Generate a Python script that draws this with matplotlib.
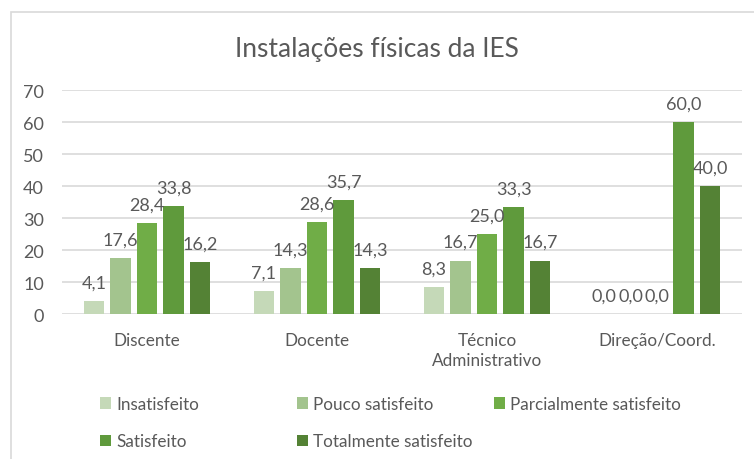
import numpy as np
import matplotlib.pyplot as plt
from matplotlib.patches import Rectangle

plt.rcParams['font.family'] = ['Lato', 'DejaVu Sans']

categories = ['Discente', 'Docente', 'Técnico\nAdministrativo', 'Direção/Coord.']
series = ['Insatisfeito', 'Pouco satisfeito', 'Parcialmente satisfeito',
          'Satisfeito', 'Totalmente satisfeito']
values = {
    'Insatisfeito':            [4.1, 7.1, 8.3, 0.0],
    'Pouco satisfeito':        [17.6, 14.3, 16.7, 0.0],
    'Parcialmente satisfeito': [28.4, 28.6, 25.0, 0.0],
    'Satisfeito':              [33.8, 35.7, 33.3, 60.0],
    'Totalmente satisfeito':   [16.2, 14.3, 16.7, 40.0],
}
colors = ['#C5D9B8', '#A3C48E', '#70AD47', '#5F9A3C', '#548235']
yticks = [0, 10, 20, 30, 40, 50, 60, 70]

txt = '#595959'

fig = plt.figure(figsize=(7.54, 4.60), dpi=100)
ax = fig.add_axes([62/754, 1-315/460, 680/754, 224/460])

# light chart frame
fig.patches.append(Rectangle((11/754, -0.1), 1.2, 1.1 - 13/460, transform=fig.transFigure,
                             fill=False, edgecolor='#D9D9D9', linewidth=1.2))

x = np.arange(len(categories))
pitch = 0.156
width = 0.118
bars = []
for i, s in enumerate(series):
    pos = x + (i - 2) * pitch
    b = ax.bar(pos, values[s], width, color=colors[i], label=s, zorder=3)
    bars.append(b)
    for px, v in zip(pos, values[s]):
        ax.text(px, v + 4.2, f'{v:.1f}'.replace('.', ','), ha='center', va='baseline',
                fontsize=13, color=txt, zorder=4)

ax.set_xlim(-0.5, len(categories) - 0.5)
ax.set_ylim(0, 70)
ax.set_yticks(yticks)
ax.set_xticks(x)
ax.set_xticklabels(categories, color=txt, fontsize=12.3, linespacing=1.3)
ax.tick_params(axis='y', length=0, pad=13, labelsize=13, labelcolor=txt)
ax.tick_params(axis='x', length=0, pad=13)
ax.yaxis.grid(True, color='#D9D9D9', linewidth=1.2, zorder=0)
for sp in ax.spines.values():
    sp.set_visible(False)

fig.text(0.5, 1 - 50/460, 'Instalações físicas da IES', ha='center', va='center',
         fontsize=19, color=txt)

# legend laid out in fixed-width columns, row by row like the original
cols = [[0, 3], [1, 4], [2]]
col_x = [100, 297, 494]
for c, xs in zip(cols, col_x):
    leg = fig.legend([bars[i] for i in c], [series[i] for i in c],
                     loc='upper left', bbox_to_anchor=(xs/754, 1 - 397/460),
                     frameon=False, fontsize=12.3, handlelength=0.65, handleheight=0.65,
                     handletextpad=0.3, labelspacing=1.25, borderpad=0, borderaxespad=0)
    for t in leg.get_texts():
        t.set_color(txt)

fig.savefig('out.png', dpi=100)
